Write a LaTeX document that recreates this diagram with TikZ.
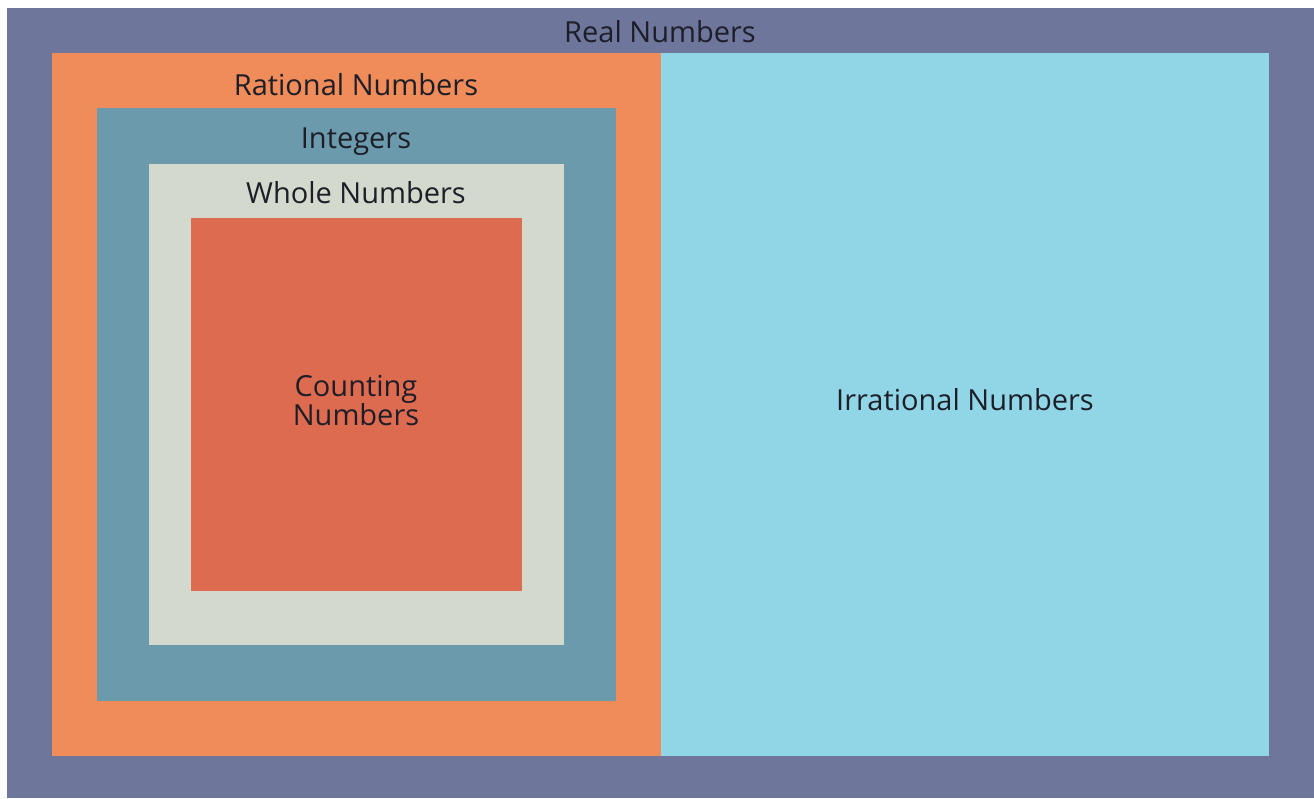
\documentclass[tikz,border=0pt]{standalone}
\usepackage{fontspec}
\setmainfont{Open Sans}
\definecolor{realc}{HTML}{6E769C}
\definecolor{ratc}{HTML}{EF8C5A}
\definecolor{irrc}{HTML}{91D6E6}
\definecolor{intc}{HTML}{6A9AAB}
\definecolor{wholec}{HTML}{D3DACD}
\definecolor{countc}{HTML}{DD6B50}
\definecolor{txtc}{HTML}{1E1E28}
\begin{document}
\begin{tikzpicture}[x=1pt,y=-1pt,
  lbl/.style={text=txtc,font=\fontsize{29}{29}\selectfont,inner sep=0pt,anchor=base}]
\useasboundingbox (0,0) rectangle (1314,798);
\fill[white] (0,0) rectangle (1314,798);
\fill[realc] (7,8) rectangle (1314,798);
\fill[ratc] (52,53) rectangle (661,756);
\fill[irrc] (661,53) rectangle (1269,756);
\fill[intc] (97,108) rectangle (616,701);
\fill[wholec] (149,164) rectangle (564,645);
\fill[countc] (191,218) rectangle (522,591);
\node[lbl] (real) at (660,42) {Real Numbers};
\node[lbl] (rat) at (356,95) {Rational Numbers};
\node[lbl] (int) at (356,148) {Integers};
\node[lbl] (whole) at (356,203) {Whole Numbers};
\node[lbl] (count1) at (356,396) {Counting};
\node[lbl] (count2) at (356,425) {Numbers};
\node[lbl] (irr) at (965,410) {Irrational Numbers};
\end{tikzpicture}
\end{document}
